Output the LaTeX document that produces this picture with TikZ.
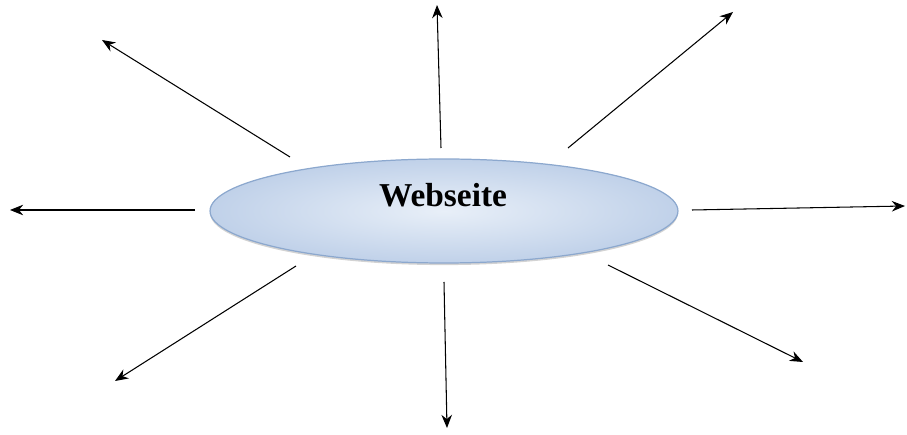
\documentclass[tikz,border=0pt]{standalone}
\usepackage{fontspec}
\setmainfont{Liberation Serif}
\usetikzlibrary{arrows.meta,shapes.geometric,shadows}
\definecolor{ellfill}{RGB}{232,239,248}
\definecolor{elldark}{RGB}{192,209,233}
\definecolor{ellline}{RGB}{140,168,206}

\tikzset{
  pfeil/.style={black, line width=0.6pt, -{Stealth[length=7.5pt,width=6pt]}},
  blase/.style={ellipse, draw=ellline, line width=0.7pt, inner color=ellfill, outer color=elldark,
    minimum width=9.36cm, minimum height=2.08cm,
    drop shadow={shadow xshift=0pt, shadow yshift=-1.2pt, opacity=0.35, fill=gray}}
}

\begin{document}
\begin{tikzpicture}[x=0.02cm, y=-0.02cm]
        \useasboundingbox (0,0) rectangle (907,435);
        % Mitte
        \node[blase] (webseite) at (444,211) {};
        \node[font=\fontsize{19}{22}\selectfont\bfseries] (titel) at (443,195) {Webseite};
        % Anfang und Ende der Pfeile
        \foreach \n/\ax/\ay/\bx/\by in {
            ol/290/157/102/40, o/441/148/437/5, or/568/148/733/12,
            l/195/210/10/210, r/692/210/905/206,
            ul/296/266/115/381, u/444/282/447/428, ur/608/265/803/362} {
            \coordinate (a-\n) at (\ax,\ay);
            \coordinate (b-\n) at (\bx,\by);
            \draw[pfeil] (a-\n) -- (b-\n);
        }
    \end{tikzpicture}
\end{document}
